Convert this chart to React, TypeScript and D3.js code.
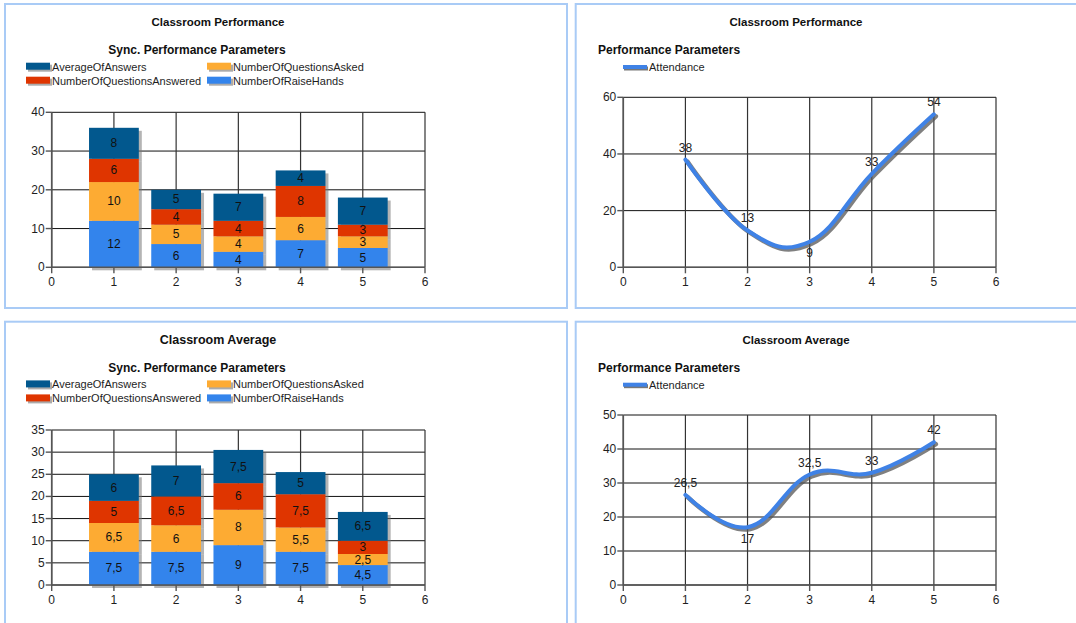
import React from "react";
import * as d3 from "d3";

const categories = [1, 2, 3, 4, 5];
const xTicks = [0, 1, 2, 3, 4, 5, 6];

const seriesKeys = ["NumberOfRaiseHands", "NumberOfQuestionsAsked", "NumberOfQuestionsAnswered", "AverageOfAnswers"];
const seriesColors: Record<string, string> = {
  AverageOfAnswers: "#02588e",
  NumberOfQuestionsAnswered: "#df3500",
  NumberOfQuestionsAsked: "#fdab33",
  NumberOfRaiseHands: "#3384ec",
};
const legendCol1 = ["AverageOfAnswers", "NumberOfQuestionsAnswered"];
const legendCol2 = ["NumberOfQuestionsAsked", "NumberOfRaiseHands"];

// Classroom Performance (bars)
const perfRaiseHands = [12, 6, 4, 7, 5];
const perfAsked = [10, 5, 4, 6, 3];
const perfAnswered = [6, 4, 4, 8, 3];
const perfAverage = [8, 5, 7, 4, 7];
const perfYTicks = [0, 10, 20, 30, 40];

// Classroom Average (bars)
const avgRaiseHands = [7.5, 7.5, 9, 7.5, 4.5];
const avgAsked = [6.5, 6, 8, 5.5, 2.5];
const avgAnswered = [5, 6.5, 6, 7.5, 3];
const avgAverage = [6, 7, 7.5, 5, 6.5];
const avgYTicks = [0, 5, 10, 15, 20, 25, 30, 35];

// Attendance lines
const perfAttendance = [38, 13, 9, 33, 54];
const perfAttendancePos = ["above", "above", "below", "above", "above"];
const perfLineYTicks = [0, 20, 40, 60];
const avgAttendance = [26.5, 17, 32.5, 33, 42];
const avgAttendancePos = ["above", "below", "above", "above", "above"];
const avgLineYTicks = [0, 10, 20, 30, 40, 50];

const FONT = "'Liberation Sans', Arial, sans-serif";
const TEXT = "#1e1e1e";
const fmt = (v: number) => String(v).replace(".", ",");

function Grid({ x, y, xt, yt }: any) {
  const [x0, x1] = x.range();
  const [y0, y1] = y.range();
  return (
    <g>
      {yt.map((t: number) => (
        <line key={"h" + t} x1={x0} x2={x1} y1={y(t)} y2={y(t)} stroke="#111" strokeWidth={1} />
      ))}
      {xt.map((t: number) => (
        <line key={"v" + t} x1={x(t)} x2={x(t)} y1={y0} y2={y1} stroke="#333" strokeWidth={1.2} />
      ))}
    </g>
  );
}

function Axes({ x, y, xt, yt }: any) {
  const [x0, x1] = x.range();
  const [y0, y1] = y.range();
  return (
    <g fontFamily={FONT} fontSize={12} fill={TEXT}>
      <line x1={x0} x2={x0} y1={y0 + 0.5} y2={y1} stroke="#555" strokeWidth={1.6} />
      <line x1={x0} x2={x1} y1={y0} y2={y0} stroke="#555" strokeWidth={1.6} />
      {yt.map((t: number) => (
        <g key={"yt" + t}>
          <line x1={x0 - 6} x2={x0} y1={y(t)} y2={y(t)} stroke="#555" strokeWidth={1.4} />
          <text x={x0 - 7} y={y(t)} textAnchor="end" dominantBaseline="central">{t}</text>
        </g>
      ))}
      {xt.map((t: number) => (
        <g key={"xt" + t}>
          <line x1={x(t)} x2={x(t)} y1={y0} y2={y0 + 6} stroke="#555" strokeWidth={1.4} />
          <text x={x(t)} y={y0 + 15} textAnchor="middle" dominantBaseline="central">{t}</text>
        </g>
      ))}
    </g>
  );
}

function BarPanel({ oy, title, titleSize, series, yTicks }: any) {
  const x = d3.scaleLinear().domain([0, 6]).range([51.7, 425]);
  const y = d3.scaleLinear().domain([0, d3.max(yTicks) as number]).range([267.3 + oy, 112.3 + oy]);
  const rows = categories.map((c, i) => {
    const r: any = { cat: c };
    seriesKeys.forEach((k) => (r[k] = series[k][i]));
    return r;
  });
  const stacked = d3.stack<any>().keys(seriesKeys)(rows);
  const halfW = 0.4;
  const bw = x(1 + halfW) - x(1 - halfW);
  return (
    <g>
      <text x={218} y={22 + oy} textAnchor="middle" dominantBaseline="central" fontFamily={FONT} fontWeight="bold" fontSize={titleSize} fill="#111">{title}</text>
      <text x={197} y={50 + oy} textAnchor="middle" dominantBaseline="central" fontFamily={FONT} fontWeight="bold" fontSize={12} fill="#111">Sync. Performance Parameters</text>
      {[legendCol1, legendCol2].map((col, ci) =>
        col.map((k, ri) => {
          const lx = ci === 0 ? 26 : 207;
          const ly = 66.7 + ri * 14 + oy;
          return (
            <g key={k}>
              <rect x={lx + 2} y={ly - 2} width={24} height={7} fill="#888" opacity={0.7} />
              <rect x={lx} y={ly - 4} width={24} height={7} fill={seriesColors[k]} />
              <text x={lx + 26} y={ly} dominantBaseline="central" fontFamily={FONT} fontSize={11} fill={TEXT}>{k}</text>
            </g>
          );
        })
      )}
      <Grid x={x} y={y} xt={xTicks} yt={yTicks} />
      {stacked.map((layer) =>
        layer.map((d) => (
          <rect key={"s" + layer.key + d.data.cat} x={x(d.data.cat - halfW) + 3} y={y(d[1]) + 3} width={bw} height={y(d[0]) - y(d[1])} fill="#777" opacity={0.55} />
        ))
      )}
      {stacked.map((layer) =>
        layer.map((d) => (
          <rect key={layer.key + d.data.cat} x={x(d.data.cat - halfW)} y={y(d[1])} width={bw} height={y(d[0]) - y(d[1])} fill={seriesColors[layer.key]} />
        ))
      )}
      {stacked.map((layer) =>
        layer.map((d) => (
          <text key={"l" + layer.key + d.data.cat} x={x(d.data.cat)} y={(y(d[0]) + y(d[1])) / 2} textAnchor="middle" dominantBaseline="central" fontFamily={FONT} fontSize={12} fill="#111">
            {fmt(d[1] - d[0])}
          </text>
        ))
      )}
      <Axes x={x} y={y} xt={xTicks} yt={yTicks} />
    </g>
  );
}

function LinePanel({ oy, title, values, pos, yTicks }: any) {
  const x = d3.scaleLinear().domain([0, 6]).range([623.3, 996]);
  const y = d3.scaleLinear().domain([0, d3.max(yTicks) as number]).range([267.3 + oy, 97.3 + oy]);
  const line = d3
    .line<number>()
    .x((_, i) => x(categories[i]))
    .y((v) => y(v))
    .curve(d3.curveCardinal.tension(-0.2));
  const path = line(values) as string;
  return (
    <g>
      <text x={796} y={22 + oy} textAnchor="middle" dominantBaseline="central" fontFamily={FONT} fontWeight="bold" fontSize={11.5} fill="#111">{title}</text>
      <text x={598} y={50 + oy} dominantBaseline="central" fontFamily={FONT} fontWeight="bold" fontSize={12} fill="#111">Performance Parameters</text>
      <line x1={624} x2={648} y1={68.5 + oy} y2={68.5 + oy} stroke="#777" strokeWidth={4} />
      <line x1={623} x2={647} y1={67 + oy} y2={67 + oy} stroke="#3f82e6" strokeWidth={4} />
      <text x={649} y={67 + oy} dominantBaseline="central" fontFamily={FONT} fontSize={11} fill={TEXT}>Attendance</text>
      <Grid x={x} y={y} xt={xTicks} yt={yTicks} />
      <path d={path} transform="translate(2,2)" fill="none" stroke="#555" strokeOpacity={0.75} strokeWidth={4.5} strokeLinecap="round" />
      <path d={path} fill="none" stroke="#3f82e6" strokeWidth={4} strokeLinecap="round" />
      {values.map((v: number, i: number) => (
        <text key={i} x={x(categories[i])} y={y(v) + (pos[i] === "below" ? 11.5 : -12)} textAnchor="middle" dominantBaseline="central" fontFamily={FONT} fontSize={12} fill="#222">
          {fmt(v)}
        </text>
      ))}
      <Axes x={x} y={y} xt={xTicks} yt={yTicks} />
    </g>
  );
}

export default function App() {
  const perfSeries = {
    NumberOfRaiseHands: perfRaiseHands,
    NumberOfQuestionsAsked: perfAsked,
    NumberOfQuestionsAnswered: perfAnswered,
    AverageOfAnswers: perfAverage,
  };
  const avgSeries = {
    NumberOfRaiseHands: avgRaiseHands,
    NumberOfQuestionsAsked: avgAsked,
    NumberOfQuestionsAnswered: avgAnswered,
    AverageOfAnswers: avgAverage,
  };
  const OY = 317.7;
  return (
    <svg width={1076} height={623} style={{ position: "absolute", left: 0, top: 0, background: "#fff" }}>
      <rect x={0} y={0} width={1076} height={623} fill="#fff" />
      <g fill="none" stroke="#a9cbf6" strokeWidth={2}>
        <rect x={5} y={4} width={562} height={304} />
        <rect x={575.7} y={4} width={520} height={304} />
        <rect x={5} y={321.7} width={562} height={320} />
        <rect x={575.7} y={321.7} width={520} height={320} />
      </g>
      <BarPanel oy={0} title="Classroom Performance" titleSize={11.5} series={perfSeries} yTicks={perfYTicks} />
      <BarPanel oy={OY} title="Classroom Average" titleSize={12.5} series={avgSeries} yTicks={avgYTicks} />
      <LinePanel oy={0} title="Classroom Performance" values={perfAttendance} pos={perfAttendancePos} yTicks={perfLineYTicks} />
      <LinePanel oy={OY} title="Classroom Average" values={avgAttendance} pos={avgAttendancePos} yTicks={avgLineYTicks} />
    </svg>
  );
}
